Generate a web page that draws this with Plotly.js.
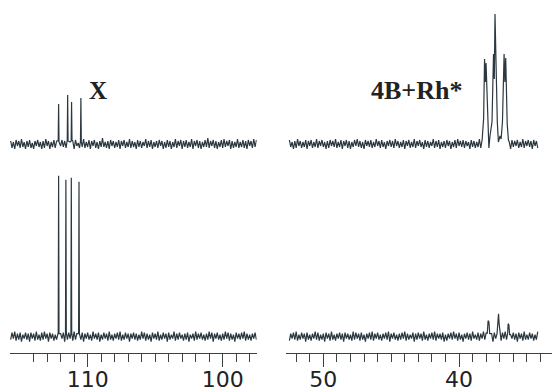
<!DOCTYPE html>
<html><head><meta charset="utf-8">
<script src="https://cdn.plot.ly/plotly-3.0.1.min.js"></script>
<style>html,body{margin:0;padding:0;background:#fff}#chart{width:552px;height:392px}</style>
</head><body><div id="chart"></div>
<script>
// sampling grid of the spectra (ppm)
const leftGridStart = 115.7, rightGridStart = 52.5, gridStep = 0.1;

// baseline noise (intensity units)
const noiseTopLeft = [3,-4,2,-5,4,-2,3,-4,5,-3, 2,-5,3,-3,4,-4,1,-5,3,-2, 4,-3,2,-5,3,-4,5,-2,3,-5, 2,-3,4,-4,3,-5,2,-2,4,-3,
 3,-4,5,-3,2,-4,3,-5,4,-2, 1,-4,3,-3,5,-4,2,-3,4,-5, 3,-2,4,-4,2,-5,3,-3,6,-3, 2,-4,3,-5,4,-2,3,-4,2,-3,
 4,-5,3,-2,4,-4,2,-3,5,-4, 3,-3,2,-5,4,-3,3,-4,2,-2, 5,-4,3,-3,4,-5,2,-3,3,-4, 4,-2,3,-5,2,-4,4,-3,3,-5,
 2,-3,5,-4,3,-2,4,-5,3,-3, 4,-4,2,-3,5,-5,3,-2,4,-4, 3,-5,2,-3,4,-3,6,-4,3,-2, 4,-4,3,-5,2,-3,4,-4,5,-3,
 3,-2,4,-5,3,-4,2,-3,5,-4, 2,-3,4,-4,3,-5,4,-2,3,-4, 5,-3,4];
const noiseBottomLeft = [-3,4,-2,5,-4,3,-3,4,-5,2, -2,4,-3,3,-5,4,-2,3,-4,5, -3,2,-4,4,-3,5,-2,3,-5,4, -2,3,-4,2,-3,5,-4,3,-2,4,
 -5,3,-3,4,-2,2,-4,5,-3,3, -4,2,-3,4,-5,3,-2,4,-3,2, -4,5,-2,3,-3,4,-5,2,-3,4, -2,3,-4,5,-3,2,-4,3,-2,4,
 -3,5,-4,2,-3,4,-2,3,-5,3, -2,4,-3,3,-4,2,-3,5,-2,4, -4,3,-3,2,-5,4,-2,3,-3,5, -4,2,-3,4,-2,3,-5,4,-3,2,
 -2,5,-4,3,-3,4,-2,2,-4,3, -3,4,-5,2,-2,3,-4,5,-3,3, -2,4,-3,2,-4,3,-3,5,-2,4, -5,3,-2,4,-3,2,-4,3,-3,5,
 -2,4,-4,3,-3,2,-5,4,-2,3, -3,4,-2,5,-4,3,-3,2,-4,3, -2,4,-3];
const noiseTopRight = [4,-3,2,-5,3,-4,5,-2,3,-4, 2,-3,4,-5,3,-2,4,-4,2,-3, 5,-4,3,-2,4,-3,2,-5,3,-4, 4,-2,3,-3,5,-4,2,-3,4,-5,
 3,-2,4,-4,3,-5,2,-3,4,-2, 5,-3,3,-4,2,-5,4,-2,3,-3, 4,-4,2,-3,5,-2,3,-4,4,-3, 2,-5,3,-2,4,-3,3,-4,5,-2,
 3,-4,2,-3,4,-5,3,-2,4,-4, 2,-3,5,-4,3,-2,4,-3,2,-5, 4,-3,3,-4,2,-2,5,-4,3,-3, 4,-5,2,-3,3,-4,4,-2,3,-5,
 2,-3,4,-4,5,-2,3,-3,4,-4, 3,-2,2,-5,4,-3,3,-4,2,-3, 5,-4,3,-2,4,-3,2,-4,3,-5, 4,-2,3,-3,2,-4,5,-3,4,-2,
 3,-4,2,-5,4,-3,3,-2,4,-4, 2,-3,5,-4,3,-2,4,-3,3,-5, 4,-2,3,-4];
const noiseBottomRight = [-4,3,-2,4,-3,5,-4,2,-3,4, -2,3,-5,4,-3,2,-4,3,-2,5, -3,4,-4,2,-3,3,-5,4,-2,3, -4,5,-3,2,-4,3,-2,4,-3,3,
 -5,4,-2,3,-3,2,-4,5,-3,4, -2,3,-4,4,-3,2,-5,3,-2,4, -3,5,-4,3,-2,4,-3,2,-4,3, -2,4,-3,5,-5,3,-2,4,-3,2,
 -4,3,-3,4,-2,5,-4,3,-3,2, -2,4,-5,3,-3,4,-2,3,-4,5, -3,2,-4,3,-2,4,-3,5,-4,3, -2,3,-3,4,-5,2,-4,3,-2,4,
 -3,5,-2,3,-4,4,-3,2,-5,3, -2,4,-3,3,-4,5,-2,2,-3,4, -4,3,-2,5,-3,4,-4,2,-3,3, -5,4,-2,3,-3,2,-4,4,-2,5,
 -3,3,-4,2,-2,4,-3,3,-5,4, -2,3,-4,5,-3,2,-3,4,-2,3, -4,2,-3,5];

// signals (ppm, intensity)
const topLeftSigPpm = [112.18,112.15,112.12, 111.51,111.48,111.45, 111.22,111.19,111.16, 110.53,110.50,110.47];
const topLeftSigInt = [3,40,2, 4,49,3, 3,42,4, 3,46,2];
const bottomLeftSigPpm = [112.18,112.15,112.12, 111.64,111.61,111.58, 111.24,111.21,111.18, 110.67,110.64,110.61];
const bottomLeftSigInt = [4,161,3, 3,157,4, 3,159,4, 3,155,3];
const topRightSigPpm = [38.30,38.19,38.12,38.06,38.01,37.90,37.72,37.57,37.46,37.40,37.35,37.30,37.18,36.98,36.80,36.68,36.62,36.56,36.45,36.36];
const topRightSigInt = [4,25,85,62,81,22,8,22,90,65,130,92,22,8,22,90,62,86,20,4];
const bottomRightSigPpm = [37.92,37.86,37.80,37.74, 37.20,37.15,37.09,37.04,36.98, 36.42,36.38,36.33,36.27];
const bottomRightSigInt = [3,16,15,3, 3,14,23,12,2, 3,13,12,2];

// axis ticks
const leftMajorTicks = [110, 100];
const leftTickLabels = ['110', '100'];
const leftMinorTicks = [114,113,112,111,110,109,108,107,106,105,104,103,102,101,100,99,98];
const rightMajorTicks = [50, 40];
const rightTickLabels = ['50', '40'];
const rightMinorTicks = [52,51,50,49,48,47,46,45,44,43,42,41,40,39,38,37,36,35,34];

// labels
const labelLeft = 'X';
const labelRight = '4B+Rh*';

function buildSpectrum(start, noise, sigPpm, sigInt) {
  const pts = [];
  noise.forEach((v, i) => {
    const x = +(start - i * gridStep).toFixed(3);
    if (sigPpm.every(p => Math.abs(p - x) > 0.06)) pts.push([x, v]);
  });
  sigPpm.forEach((p, i) => pts.push([p, sigInt[i]]));
  pts.sort((a, b) => b[0] - a[0]);
  return {x: pts.map(p => p[0]), y: pts.map(p => p[1])};
}

const lineColor = '#2b383f';
const axisColor = '#3a4246';
function trace(sp, xa, ya) {
  return {type: 'scatter', mode: 'lines', x: sp.x, y: sp.y, xaxis: xa, yaxis: ya,
    line: {color: lineColor, width: 1.2}, hoverinfo: 'skip'};
}

const data = [
  trace(buildSpectrum(leftGridStart, noiseBottomLeft, bottomLeftSigPpm, bottomLeftSigInt), 'x', 'y'),
  trace(buildSpectrum(leftGridStart, noiseTopLeft, topLeftSigPpm, topLeftSigInt), 'x', 'y2'),
  trace(buildSpectrum(rightGridStart, noiseBottomRight, bottomRightSigPpm, bottomRightSigInt), 'x2', 'y'),
  trace(buildSpectrum(rightGridStart, noiseTopRight, topRightSigPpm, topRightSigInt), 'x2', 'y2')
];

function xAxis(domain, range, major, labels, minor) {
  return {domain: domain, range: range, anchor: 'y', showline: true, linecolor: axisColor, linewidth: 1,
    ticks: 'outside', ticklen: 13, tickwidth: 1, tickcolor: axisColor,
    tickmode: 'array', tickvals: major, ticktext: labels, ticklabelstandoff: -6,
    minor: {tickmode: 'array', tickvals: minor, ticks: 'outside', ticklen: 8, tickwidth: 1, tickcolor: axisColor, showgrid: false},
    showgrid: false, zeroline: false, fixedrange: true,
    tickfont: {family: 'DejaVu Sans', size: 22, color: '#222'}};
}

const layout = {
  width: 552, height: 392, margin: {l: 0, r: 0, t: 0, b: 0},
  paper_bgcolor: '#fff', plot_bgcolor: 'rgba(0,0,0,0)', showlegend: false,
  xaxis: xAxis([10/552, 256.7/552], [115.75, 97.48], leftMajorTicks, leftTickLabels, leftMinorTicks),
  xaxis2: xAxis([286/552, 1], [52.75, 33.15], rightMajorTicks, rightTickLabels, rightMinorTicks),
  yaxis: {domain: [0.1003, 0.6], range: [-16, 179.9], visible: false, fixedrange: true},
  yaxis2: {domain: [0.5536, 1], range: [-31, 144], visible: false, fixedrange: true},
  annotations: [
    {text: '<b>' + labelLeft + '</b>', xref: 'paper', yref: 'paper', x: 98.3/552, y: 1 - 90.7/392,
     xanchor: 'center', yanchor: 'middle', showarrow: false,
     font: {family: 'Liberation Serif', size: 25, color: '#222'}},
    {text: '<b>' + labelRight + '</b>', xref: 'paper', yref: 'paper', x: 416/552, y: 1 - 90.5/392,
     xanchor: 'center', yanchor: 'middle', showarrow: false,
     font: {family: 'Liberation Serif', size: 26, color: '#222'}}
  ]
};

Plotly.newPlot('chart', data, layout, {staticPlot: true, displayModeBar: false});
</script></body></html>
